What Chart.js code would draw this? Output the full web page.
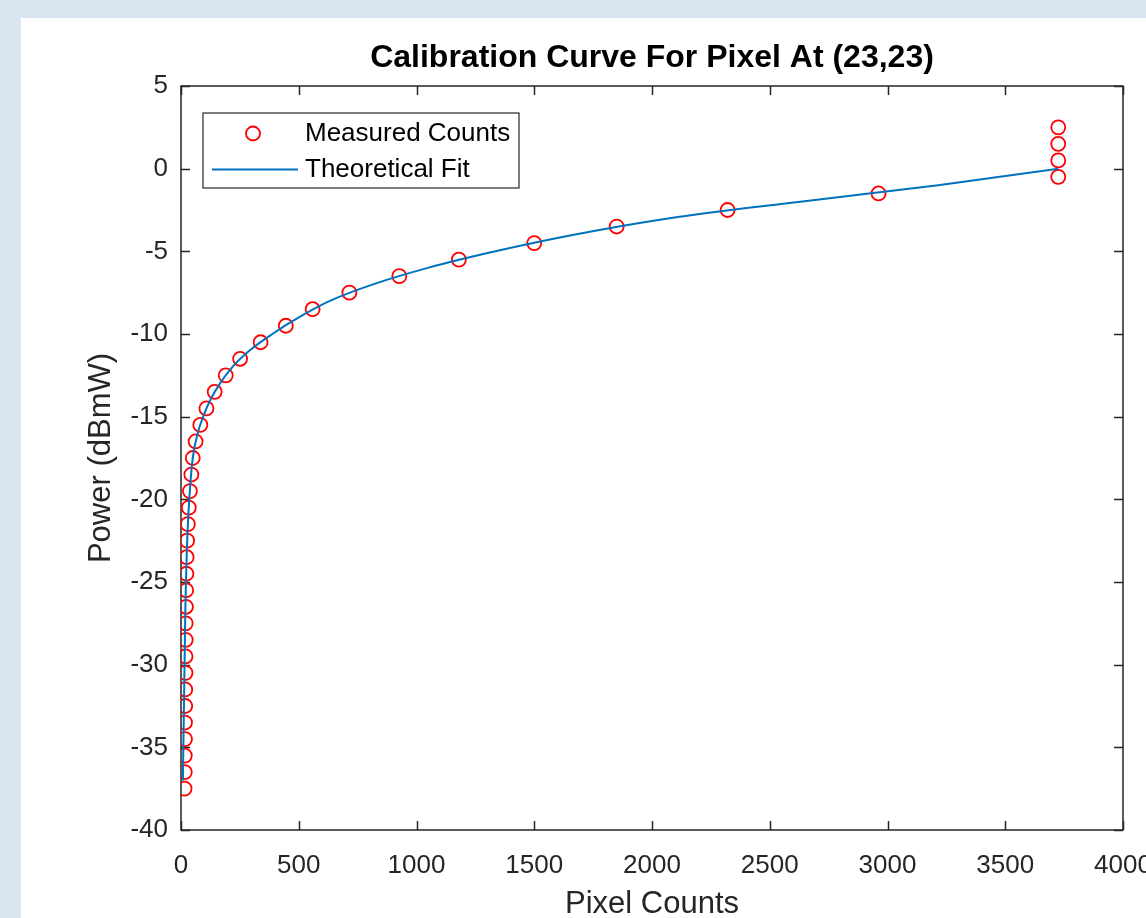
<!DOCTYPE html>
<html>
<head>
<meta charset="utf-8">
<title>Calibration Curve For Pixel At (23,23)</title>
<script src="https://cdn.jsdelivr.net/npm/chart.js@4.4.0/dist/chart.umd.min.js"></script>
<style>
  html, body { margin: 0; padding: 0; background: #dbe5f1; overflow: hidden; }
  #panel { position: absolute; left: 21px; top: 18px; width: 1125px; height: 900px; background: #fff; overflow: hidden; }
  #chart { display: block; }
</style>
</head>
<body>
<div id="panel"><canvas id="chart" width="1160" height="900"></canvas></div>
<script>
// measured points (power in dBmW, pixel counts)
const measuredPower = [
  -37.5, -36.5, -35.5, -34.5, -33.5, -32.5, -31.5, -30.5, -29.5, -28.5,
  -27.5, -26.5, -25.5, -24.5, -23.5, -22.5, -21.5, -20.5, -19.5, -18.5,
  -17.5, -16.5, -15.5, -14.5, -13.5, -12.5, -11.5, -10.5, -9.5, -8.5,
  -7.5, -6.5, -5.5, -4.5, -3.5, -2.5, -1.5, -0.5, 0.5, 1.5, 2.5
];
const measuredCounts = [
  15, 16, 16, 17, 17, 18, 18, 19, 19, 20,
  20, 21, 22, 23, 24, 26, 29, 33, 38, 44,
  50, 62, 82, 108, 143, 190, 251, 338, 445, 559,
  715, 927, 1180, 1500, 1850, 2321, 2962, 3725, 3725, 3725, 3725
];

// theoretical fit curve
const fitPower = [
  -37, -35, -33, -31, -29, -27, -25, -23, -21, -19,
  -17.5, -16, -15, -14, -13, -12, -11, -10, -9, -8,
  -7, -6, -5, -4, -3, -2, -1, -0.5, 0
];
const fitCounts = [
  8, 10, 12, 14, 16, 18, 21, 25, 31, 40,
  50, 71, 94, 124, 165, 218, 291, 388, 500, 632,
  815, 1048, 1335, 1668, 2075, 2630, 3215, 3470, 3725
];

const xTicks = [0, 500, 1000, 1500, 2000, 2500, 3000, 3500, 4000];
const yTicks = [-40, -35, -30, -25, -20, -15, -10, -5, 0, 5];

const AXIS = '#262626';
const TICK_LEN = 9;
Chart.defaults.font.family = "'Liberation Sans', Arial, Helvetica, sans-serif";

// MATLAB style box with inward ticks on all four sides
const boxAxes = {
  id: 'boxAxes',
  beforeDatasetsDraw(chart) {
    const { ctx, chartArea: a, scales: { x, y } } = chart;
    ctx.save();
    ctx.strokeStyle = AXIS;
    ctx.lineWidth = 1.5;
    ctx.strokeRect(a.left, a.top, a.right - a.left, a.bottom - a.top);
    ctx.beginPath();
    x.ticks.forEach(t => {
      const px = Math.round(x.getPixelForValue(t.value)) + 0.5;
      ctx.moveTo(px, a.bottom); ctx.lineTo(px, a.bottom - TICK_LEN);
      ctx.moveTo(px, a.top); ctx.lineTo(px, a.top + TICK_LEN);
    });
    y.ticks.forEach(t => {
      const py = Math.round(y.getPixelForValue(t.value)) + 0.5;
      ctx.moveTo(a.left, py); ctx.lineTo(a.left + TICK_LEN, py);
      ctx.moveTo(a.right, py); ctx.lineTo(a.right - TICK_LEN, py);
    });
    ctx.stroke();
    ctx.restore();
  }
};

// legend box in the upper left of the axes
const legendBox = {
  id: 'legendBox',
  afterDraw(chart) {
    const { ctx, chartArea: a } = chart;
    const [meas, fit] = chart.data.datasets;
    const bx = a.left + 22, by = a.top + 27, bw = 316, bh = 75;
    ctx.save();
    ctx.fillStyle = '#fff';
    ctx.fillRect(bx, by, bw, bh);
    ctx.strokeStyle = AXIS;
    ctx.lineWidth = 1.2;
    ctx.strokeRect(bx, by, bw, bh);

    ctx.beginPath();
    ctx.strokeStyle = meas.borderColor;
    ctx.lineWidth = meas.pointBorderWidth;
    ctx.arc(bx + 50, by + 20.5, meas.pointRadius, 0, Math.PI * 2);
    ctx.stroke();

    ctx.beginPath();
    ctx.strokeStyle = fit.borderColor;
    ctx.lineWidth = fit.borderWidth;
    ctx.moveTo(bx + 9, by + 56.5);
    ctx.lineTo(bx + 95, by + 56.5);
    ctx.stroke();

    ctx.fillStyle = '#000';
    ctx.font = "26px 'Liberation Sans', Arial, sans-serif";
    ctx.textBaseline = 'middle';
    ctx.fillText(meas.label, bx + 102, by + 21);
    ctx.fillText(fit.label, bx + 102, by + 57);
    ctx.restore();
  }
};

new Chart(document.getElementById('chart'), {
  type: 'scatter',
  data: {
    datasets: [
      {
        label: 'Measured Counts',
        data: measuredCounts.map((c, i) => ({ x: c, y: measuredPower[i] })),
        showLine: false,
        pointStyle: 'circle',
        pointRadius: 7,
        pointBorderWidth: 1.8,
        borderColor: '#ff0000',
        backgroundColor: 'rgba(0,0,0,0)',
        order: 1
      },
      {
        label: 'Theoretical Fit',
        data: fitCounts.map((c, i) => ({ x: c, y: fitPower[i] })),
        showLine: true,
        pointRadius: 0,
        borderColor: '#0072bd',
        borderWidth: 2,
        cubicInterpolationMode: 'monotone',
        order: 0
      }
    ]
  },
  options: {
    responsive: false,
    animation: false,
    events: [],
    layout: { padding: { left: 60, right: 58, top: 0, bottom: 0 } },
    plugins: {
      legend: { display: false },
      tooltip: { enabled: false },
      title: {
        display: true,
        text: 'Calibration Curve For Pixel At (23,23)',
        fullSize: false,
        color: '#000',
        font: { size: 32, weight: 'bold', lineHeight: 1.2 },
        padding: { top: 21, bottom: 8.6 }
      }
    },
    scales: {
      x: {
        type: 'linear',
        min: xTicks[0],
        max: xTicks[xTicks.length - 1],
        afterBuildTicks: s => { s.ticks = xTicks.map(v => ({ value: v })); },
        ticks: { color: AXIS, font: { size: 26 }, padding: 20, maxRotation: 0, autoSkip: false, callback: v => String(v) },
        grid: { display: false, drawTicks: false },
        border: { display: false },
        title: { display: true, text: 'Pixel Counts', color: AXIS, font: { size: 31, lineHeight: 0.9 }, padding: 0 },
        afterFit: s => { s.height = 88; }
      },
      y: {
        type: 'linear',
        min: yTicks[0],
        max: yTicks[yTicks.length - 1],
        afterBuildTicks: s => { s.ticks = yTicks.map(v => ({ value: v })); },
        ticks: { color: AXIS, font: { size: 26 }, padding: 13, autoSkip: false, callback: v => String(v) },
        grid: { display: false, drawTicks: false },
        border: { display: false },
        title: { display: true, text: 'Power (dBmW)', color: AXIS, font: { size: 31, lineHeight: 1 }, padding: { top: 5, bottom: 0 } },
        afterFit: s => { s.width = 100; }
      }
    }
  },
  plugins: [boxAxes, legendBox]
});
</script>
</body>
</html>
